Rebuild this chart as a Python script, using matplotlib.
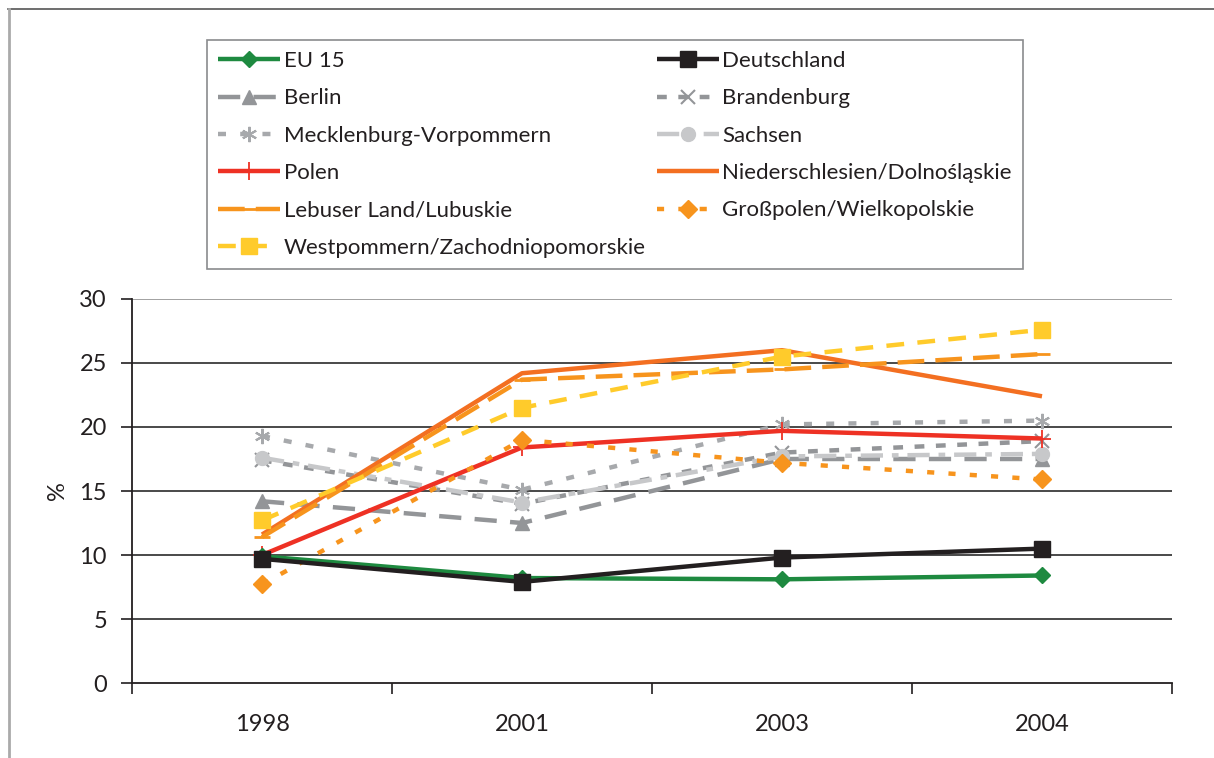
import matplotlib
matplotlib.use("Agg")
import matplotlib.pyplot as plt
from matplotlib.lines import Line2D

plt.rcParams['font.family'] = ['Lato', 'DejaVu Sans']

years = ['1998', '2001', '2003', '2004']
series_names = ['EU 15', 'Deutschland', 'Berlin', 'Brandenburg',
                'Mecklenburg-Vorpommern', 'Sachsen', 'Polen',
                'Niederschlesien/Dolnośląskie', 'Lebuser Land/Lubuskie',
                'Großpolen/Wielkopolskie', 'Westpommern/Zachodniopomorskie']

eu15 = [9.9, 8.2, 8.1, 8.4]
deutschland = [9.7, 7.9, 9.8, 10.5]
berlin = [14.2, 12.5, 17.5, 17.5]
brandenburg = [17.4, 14.0, 18.0, 18.9]
meckpomm = [19.3, 15.1, 20.2, 20.5]
sachsen = [17.6, 14.1, 17.7, 17.9]
polen = [10.0, 18.4, 19.7, 19.1]
niederschlesien = [11.6, 24.2, 26.0, 22.4]
lebuser = [11.4, 23.7, 24.5, 25.7]
grosspolen = [7.7, 19.0, 17.2, 15.9]
westpommern = [12.7, 21.5, 25.5, 27.6]

values = [eu15, deutschland, berlin, brandenburg, meckpomm, sachsen, polen,
          niederschlesien, lebuser, grosspolen, westpommern]

styles = [
    dict(color='#1E8A40', ls='-', marker='D', ms=8, lw=3.2),
    dict(color='#231F20', ls='-', marker='s', ms=11, lw=3.2),
    dict(color='#939598', ls=(0, (5, 3)), marker='^', ms=10, lw=3.2),
    dict(color='#939598', ls=(0, (2.2, 2.6)), marker='x', ms=10, lw=3.2, mew=1.5),
    dict(color='#A7A9AC', ls=(0, (1.8, 3.2)), marker=(6, 2, 0), ms=11, lw=3.2, mew=1.5),
    dict(color='#C7C8CA', ls=(0, (5, 2, 1.5, 2)), marker='o', ms=10, lw=3.2),
    dict(color='#EE3124', ls='-', marker='+', ms=13, lw=3.2, mew=1.3),
    dict(color='#F36F21', ls='-', marker='None', ms=8, lw=3.2),
    dict(color='#F7941D', ls=(0, (6, 2.5)), marker='_', ms=12, lw=3.2, mew=2),
    dict(color='#F7941D', ls=(0, (1.6, 3.2)), marker='D', ms=9, lw=3.2),
    dict(color='#FFCB2B', ls=(0, (4, 3)), marker='s', ms=11, lw=3.2),
]

fig = plt.figure(figsize=(12.14, 7.58), dpi=100)
ax = fig.add_axes([132 / 1214, 1 - 683 / 758, (1172 - 132) / 1214, (683 - 299) / 758])

x = range(len(years))
handles = []
for name, vals, st in zip(series_names, values, styles):
    st = dict(st)
    mew = st.pop('mew', 1)
    line, = ax.plot(list(x), vals, color=st['color'], linestyle=st['ls'],
                    marker=st['marker'], markersize=st['ms'], linewidth=st['lw'],
                    markeredgewidth=mew, markeredgecolor=st['color'],
                    markerfacecolor=st['color'], label=name, solid_capstyle='butt',
                    dash_capstyle='butt')
    handles.append(line)

for h in handles[:2]:
    h.set_zorder(5)

ax.set_xlim(-0.5, 3.5)
ax.set_ylim(0, 30)
ax.set_yticks(range(0, 31, 5))
ax.set_xticks([i for i in range(4)])
ax.set_xticklabels(years)
ax.set_xticks([-0.5, 0.5, 1.5, 2.5, 3.5], minor=True)
ax.tick_params(axis='x', which='major', length=0, pad=22, labelsize=17, colors='#231F20')
ax.tick_params(axis='x', which='minor', length=8, width=1.2, direction='out', color='#231F20')
ax.tick_params(axis='y', length=8, width=1.2, direction='out', pad=10, labelsize=17, color='#231F20', labelcolor='#231F20')

for y in range(5, 31, 5):
    ax.axhline(y, color='#3a3a3a' if y < 30 else '#9a9a9a', lw=1.3, zorder=0)

for s in ['top', 'right']:
    ax.spines[s].set_visible(False)
for s in ['left', 'bottom']:
    ax.spines[s].set_color('#231F20')
    ax.spines[s].set_linewidth(1.3)

ax.set_ylabel('%', fontsize=17, color='#231F20', labelpad=8)

order = [0, 2, 4, 6, 8, 10, 1, 3, 5, 7, 9]
leg = fig.legend([handles[i] for i in order], [series_names[i] for i in order],
                 ncol=2, loc='upper left', bbox_to_anchor=(207 / 1214, 1 - 40 / 758),
                 frameon=True, fancybox=False, fontsize=16, handlelength=2.8,
                 handletextpad=0.15, columnspacing=0.5, labelspacing=0.78,
                 borderpad=0.5, borderaxespad=0)
leg.get_frame().set_edgecolor('#6d6e71')
leg.get_frame().set_linewidth(1.2)
for t in leg.get_texts():
    t.set_color('#231F20')

fig.add_artist(Line2D([8 / 1214, 1], [1 - 9 / 758] * 2, transform=fig.transFigure,
                      color='#555555', lw=1.2))
fig.add_artist(Line2D([9 / 1214] * 2, [0, 1 - 9 / 758], transform=fig.transFigure,
                      color='#aaaaaa', lw=2))

fig.savefig('out.png', dpi=100)
